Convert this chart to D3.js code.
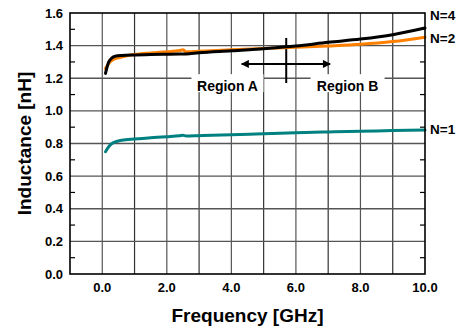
<!DOCTYPE html>
<html>
<head>
<meta charset="utf-8">
<script src="https://cdn.jsdelivr.net/npm/d3@7"></script>
<style>
  body { margin: 0; background: #fff; }
  text { font-family: "Liberation Sans", Arial, sans-serif; font-weight: bold; fill: #000; }
</style>
</head>
<body>
<div id="chart"></div>
<script>
// frequency points in GHz
const freq = [0.1, 0.2, 0.3, 0.4, 0.6, 1.0, 1.5, 2.0, 2.4, 2.5, 2.6, 3.0, 4.0, 5.0, 6.0, 7.0, 8.0, 9.0, 10.0];
// inductance [nH] per number of turns
const n4 = [1.23, 1.30, 1.325, 1.335, 1.34, 1.343, 1.345, 1.347, 1.348, 1.348, 1.349, 1.356, 1.368, 1.381, 1.397, 1.42, 1.44, 1.467, 1.508];
const n2 = [1.26, 1.29, 1.31, 1.32, 1.33, 1.345, 1.355, 1.363, 1.37, 1.374, 1.362, 1.365, 1.375, 1.383, 1.39, 1.398, 1.408, 1.425, 1.452];
const n1 = [0.75, 0.78, 0.80, 0.81, 0.82, 0.828, 0.835, 0.842, 0.848, 0.85, 0.846, 0.848, 0.853, 0.86, 0.866, 0.871, 0.875, 0.879, 0.883];
const seriesNames = ["N=4", "N=2", "N=1"];
const xTicks = [0, 2, 4, 6, 8, 10];
const yTicks = [0, 0.2, 0.4, 0.6, 0.8, 1.0, 1.2, 1.4, 1.6];

const width = 464, height = 332;
const margin = { top: 13, right: 39, bottom: 58, left: 70 };

const svg = d3.select("#chart").append("svg")
  .attr("width", width)
  .attr("height", height);

const x = d3.scaleLinear().domain([-1, 10]).range([margin.left, width - margin.right]);
const y = d3.scaleLinear().domain([0, 1.6]).range([height - margin.bottom, margin.top]);

// grid
const grid = svg.append("g");
grid.selectAll("line.v")
  .data(d3.range(0, 10))
  .enter().append("line")
  .attr("x1", d => x(d)).attr("x2", d => x(d))
  .attr("y1", y(0)).attr("y2", y(1.6))
  .attr("stroke", (d, i) => i % 2 ? "#333" : "#555")
  .attr("stroke-width", 1.2);
grid.selectAll("line.h")
  .data(yTicks.slice(1, -1))
  .enter().append("line")
  .attr("x1", x(-1)).attr("x2", x(10))
  .attr("y1", d => y(d)).attr("y2", d => y(d))
  .attr("stroke", "#555")
  .attr("stroke-width", 1.3);

// minor ticks on left and right axes
const minor = d3.range(0.1, 1.6, 0.2);
svg.append("g").selectAll("line")
  .data(minor)
  .enter().append("line")
  .attr("x1", x(-1)).attr("x2", x(-1) + 5)
  .attr("y1", d => y(d)).attr("y2", d => y(d))
  .attr("stroke", "#000").attr("stroke-width", 1.2);
svg.append("g").selectAll("line")
  .data(minor)
  .enter().append("line")
  .attr("x1", x(10)).attr("x2", x(10) - 5)
  .attr("y1", d => y(d)).attr("y2", d => y(d))
  .attr("stroke", "#000").attr("stroke-width", 1.2);

// annotation boxes (white, hide grid)
const boxes = [
  { label: "Region A", cx: 3.88, w: 72 },
  { label: "Region B", cx: 7.6, w: 74 }
];
svg.append("g").selectAll("rect")
  .data(boxes)
  .enter().append("rect")
  .attr("x", d => x(d.cx) - d.w / 2)
  .attr("y", y(1.225))
  .attr("width", d => d.w)
  .attr("height", 18)
  .attr("fill", "#fff");
svg.append("g").selectAll("text")
  .data(boxes)
  .enter().append("text")
  .attr("x", d => x(d.cx))
  .attr("y", y(1.12))
  .attr("text-anchor", "middle")
  .attr("font-size", 14)
  .text(d => d.label);

// double arrow + divider
svg.append("defs").selectAll("marker")
  .data(["arrEnd", "arrStart"])
  .enter().append("marker")
  .attr("id", d => d)
  .attr("viewBox", "0 0 10 10")
  .attr("refX", 9).attr("refY", 5)
  .attr("markerWidth", 5).attr("markerHeight", 4)
  .attr("markerUnits", "strokeWidth")
  .attr("orient", d => d === "arrEnd" ? "auto" : "auto-start-reverse")
  .append("path")
  .attr("d", "M0,0 L10,5 L0,10 z")
  .attr("fill", "#000");
svg.append("line")
  .attr("x1", x(4.32)).attr("x2", x(7.06))
  .attr("y1", y(1.288)).attr("y2", y(1.288))
  .attr("stroke", "#000").attr("stroke-width", 2)
  .attr("marker-start", "url(#arrStart)")
  .attr("marker-end", "url(#arrEnd)");
svg.append("line")
  .attr("x1", x(5.7)).attr("x2", x(5.7))
  .attr("y1", y(1.447)).attr("y2", y(1.171))
  .attr("stroke", "#000").attr("stroke-width", 2);

// curves
const line = d3.line()
  .x((d, i) => x(freq[i]))
  .y(d => y(d))
  .curve(d3.curveMonotoneX);
const series = [
  { name: "N=2", values: n2, color: "#ff8000" },
  { name: "N=4", values: n4, color: "#000000" },
  { name: "N=1", values: n1, color: "#008080" }
];
svg.append("g").selectAll("path")
  .data(series)
  .enter().append("path")
  .attr("d", d => line(d.values))
  .attr("fill", "none")
  .attr("stroke", d => d.color)
  .attr("stroke-width", 3)
  .attr("stroke-linejoin", "round")
  .attr("stroke-linecap", "round");

// frame
svg.append("rect")
  .attr("x", x(-1)).attr("y", y(1.6))
  .attr("width", x(10) - x(-1))
  .attr("height", y(0) - y(1.6))
  .attr("fill", "none")
  .attr("stroke", "#000")
  .attr("stroke-width", 1.6);

// tick labels
svg.append("g").selectAll("text")
  .data(yTicks)
  .enter().append("text")
  .attr("x", x(-1) - 7)
  .attr("y", d => y(d) + 4.5)
  .attr("text-anchor", "end")
  .attr("font-size", 13)
  .text(d => d.toFixed(1));
svg.append("g").selectAll("text")
  .data(xTicks)
  .enter().append("text")
  .attr("x", d => x(d))
  .attr("y", y(0) + 18)
  .attr("text-anchor", "middle")
  .attr("font-size", 13)
  .text(d => d.toFixed(1));

// series labels at right
const endLabels = [
  { name: seriesNames[0], v: 1.59 },
  { name: seriesNames[1], v: 1.445 },
  { name: seriesNames[2], v: 0.89 }
];
svg.append("g").selectAll("text")
  .data(endLabels)
  .enter().append("text")
  .attr("x", x(10) + 5)
  .attr("y", d => y(d.v) + 5)
  .attr("font-size", 13.5)
  .text(d => d.name);

// axis titles
svg.append("text")
  .attr("x", (x(-1) + x(10)) / 2)
  .attr("y", 322)
  .attr("text-anchor", "middle")
  .attr("font-size", 19)
  .text("Frequency [GHz]");
svg.append("text")
  .attr("transform", `translate(31,${(y(0) + y(1.6)) / 2}) rotate(-90)`)
  .attr("text-anchor", "middle")
  .attr("font-size", 19)
  .text("Inductance [nH]");
</script>
</body>
</html>
